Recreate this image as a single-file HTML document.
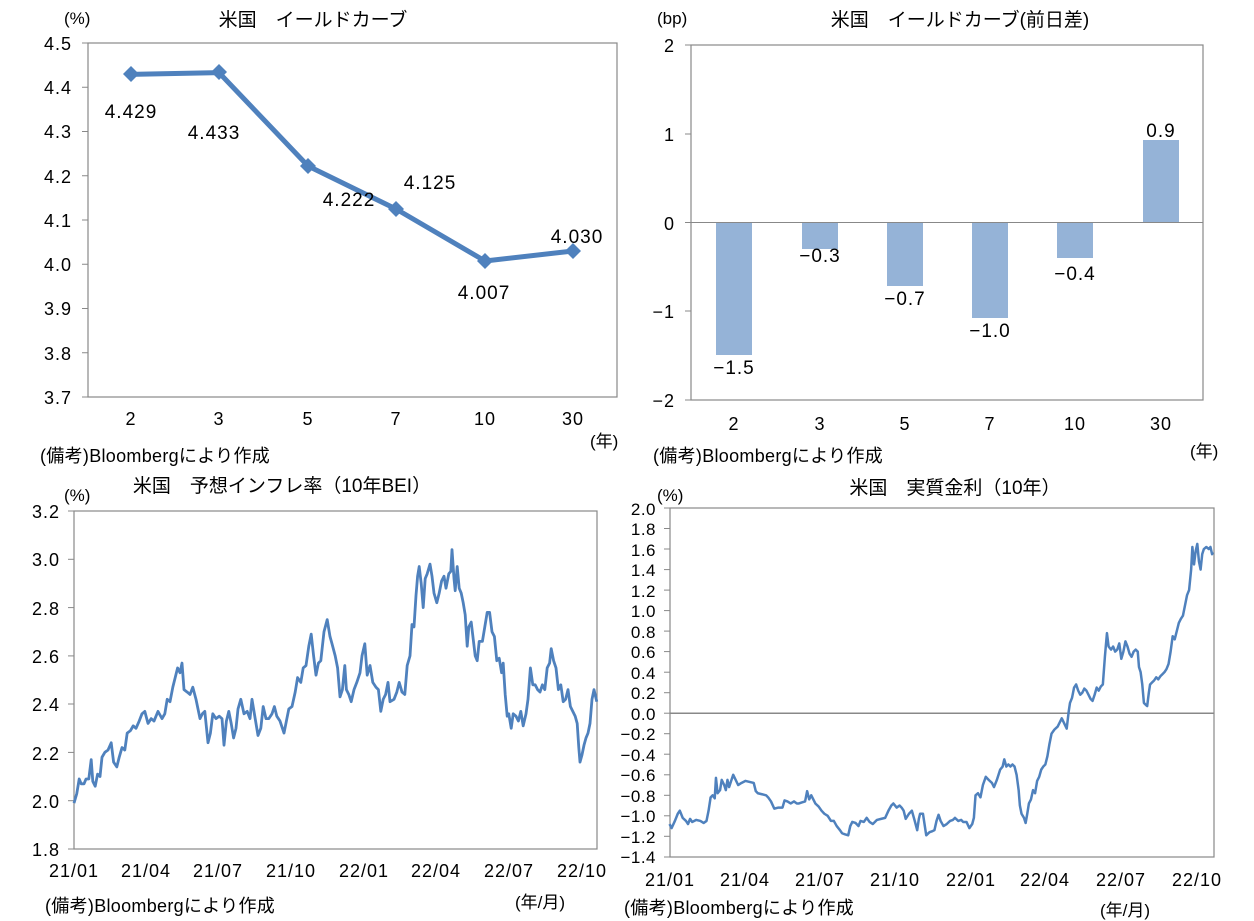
<!DOCTYPE html>
<html><head><meta charset="utf-8"><style>
html,body{margin:0;padding:0;background:#fff}
svg{display:block}
text{font-family:"Liberation Sans","Noto Sans CJK JP",sans-serif;fill:#000}
.t{font-size:18px;letter-spacing:1px}
.l{font-size:19px;letter-spacing:1px}
.ttl{font-size:19px}
.n{font-size:17px}
.f{font-size:18px;letter-spacing:0.3px}
</style></head><body>
<svg width="1254" height="921" viewBox="0 0 1254 921" xmlns="http://www.w3.org/2000/svg">
<!-- Chart 1 -->
<text x="313" y="26" text-anchor="middle" class="ttl">米国　イールドカーブ</text>
<text x="64" y="24" class="n">(%)</text>
<rect x="88" y="43" width="529" height="354" fill="none" stroke="#888" stroke-width="1.2"/>
<g stroke="#888"><line x1="82" y1="43" x2="88" y2="43"/><line x1="82" y1="87.25" x2="88" y2="87.25"/><line x1="82" y1="131.5" x2="88" y2="131.5"/><line x1="82" y1="175.75" x2="88" y2="175.75"/><line x1="82" y1="220" x2="88" y2="220"/><line x1="82" y1="264.25" x2="88" y2="264.25"/><line x1="82" y1="308.5" x2="88" y2="308.5"/><line x1="82" y1="352.75" x2="88" y2="352.75"/><line x1="82" y1="397" x2="88" y2="397"/></g>
<g class="t" text-anchor="end"><text x="72" y="50">4.5</text><text x="72" y="94">4.4</text><text x="72" y="138">4.3</text><text x="72" y="183">4.2</text><text x="72" y="227">4.1</text><text x="72" y="271">4.0</text><text x="72" y="315">3.9</text><text x="72" y="360">3.8</text><text x="72" y="404">3.7</text></g>
<g class="t" text-anchor="middle"><text x="131" y="425">2</text><text x="219" y="425">3</text><text x="308" y="425">5</text><text x="396" y="425">7</text><text x="485" y="425">10</text><text x="573" y="425">30</text></g>
<text x="590" y="447" class="n">(年)</text>
<polyline points="131,74.4 219,72.6 308,166 396,209 485,261 573,251" fill="none" stroke="#4f81bd" stroke-width="5" stroke-linejoin="round"/>
<g fill="#4f81bd"><path d="M131,66 l8,8 -8,8 -8,-8z"/><path d="M219,64 l8,8 -8,8 -8,-8z"/><path d="M308,158 l8,8 -8,8 -8,-8z"/><path d="M396,201 l8,8 -8,8 -8,-8z"/><path d="M485,253 l8,8 -8,8 -8,-8z"/><path d="M573,243 l8,8 -8,8 -8,-8z"/></g>
<g class="l" text-anchor="middle"><text x="131" y="118">4.429</text><text x="214" y="139">4.433</text><text x="349" y="206">4.222</text><text x="430" y="189">4.125</text><text x="484" y="299">4.007</text><text x="577" y="243">4.030</text></g>
<text x="40" y="462" class="f">(備考)Bloombergにより作成</text>

<!-- Chart 2 -->
<text x="960" y="26" text-anchor="middle" class="ttl">米国　イールドカーブ(前日差)</text>
<text x="657" y="24" class="n">(bp)</text>
<rect x="691" y="45" width="512" height="355" fill="none" stroke="#888" stroke-width="1.2"/>
<g stroke="#888"><line x1="685" y1="45" x2="691" y2="45"/><line x1="685" y1="134" x2="691" y2="134"/><line x1="685" y1="222.5" x2="1203" y2="222.5"/><line x1="685" y1="311" x2="691" y2="311"/><line x1="685" y1="400" x2="691" y2="400"/></g>
<g class="t" text-anchor="end"><text x="675" y="52">2</text><text x="675" y="141">1</text><text x="675" y="230">0</text><text x="675" y="318">−1</text><text x="675" y="407">−2</text></g>
<g fill="#95b3d7"><rect x="716" y="223" width="36" height="132"/><rect x="802" y="223" width="36" height="26"/><rect x="887" y="223" width="36" height="63"/><rect x="972" y="223" width="36" height="95"/><rect x="1057" y="223" width="36" height="35"/><rect x="1143" y="140" width="36" height="82"/></g>
<g class="l" text-anchor="middle"><text x="734" y="374">−1.5</text><text x="820" y="262">−0.3</text><text x="905" y="305">−0.7</text><text x="990" y="337">−1.0</text><text x="1075" y="280">−0.4</text><text x="1161" y="137">0.9</text></g>
<g class="t" text-anchor="middle"><text x="734" y="430">2</text><text x="820" y="430">3</text><text x="905" y="430">5</text><text x="990" y="430">7</text><text x="1075" y="430">10</text><text x="1161" y="430">30</text></g>
<text x="1190" y="457" class="n">(年)</text>
<text x="653" y="462" class="f">(備考)Bloombergにより作成</text>

<!-- Chart 3 -->
<text x="282" y="492" text-anchor="middle" class="ttl">米国　予想インフレ率（10年BEI）</text>
<text x="64" y="501" class="n">(%)</text>
<rect x="74" y="511" width="523" height="338" fill="none" stroke="#888" stroke-width="1.2"/>
<g stroke="#888"><line x1="68" y1="511" x2="74" y2="511"/><line x1="68" y1="559.3" x2="74" y2="559.3"/><line x1="68" y1="607.6" x2="74" y2="607.6"/><line x1="68" y1="655.9" x2="74" y2="655.9"/><line x1="68" y1="704" x2="74" y2="704"/><line x1="68" y1="752.4" x2="74" y2="752.4"/><line x1="68" y1="800.7" x2="74" y2="800.7"/><line x1="68" y1="849" x2="74" y2="849"/></g>
<g class="t" text-anchor="end"><text x="60" y="518">3.2</text><text x="60" y="566">3.0</text><text x="60" y="615">2.8</text><text x="60" y="663">2.6</text><text x="60" y="711">2.4</text><text x="60" y="760">2.2</text><text x="60" y="808">2.0</text><text x="60" y="856">1.8</text></g>
<g class="t" text-anchor="middle"><text x="74" y="877">21/01</text><text x="146" y="877">21/04</text><text x="218" y="877">21/07</text><text x="291" y="877">21/10</text><text x="364" y="877">22/01</text><text x="436" y="877">22/04</text><text x="509" y="877">22/07</text><text x="582" y="877">22/10</text></g>
<text x="515" y="908" class="n">(年/月)</text>
<text x="45" y="912" class="f">(備考)Bloombergにより作成</text>
<g transform="translate(0,1283.5) scale(0.4,-241.4)"><polyline fill="none" stroke="#4f81bd" stroke-width="2.8" vector-effect="non-scaling-stroke" stroke-linejoin="round" points="185,1.99 192,2.03 198,2.09 203,2.07 210,2.07 215,2.09 222,2.09 228,2.17 232,2.08 238,2.06 244,2.11 250,2.10 255,2.18 262,2.20 270,2.21 278,2.24 284,2.16 292,2.14 298,2.18 305,2.22 312,2.21 318,2.28 326,2.29 333,2.31 340,2.30 348,2.33 355,2.36 362,2.37 370,2.32 378,2.34 385,2.33 395,2.37 405,2.34 412,2.36 418,2.42 425,2.41 432,2.47 438,2.51 444,2.55 450,2.53 455,2.57 460,2.46 468,2.45 475,2.44 482,2.47 490,2.42 500,2.34 506,2.36 512,2.37 520,2.24 526,2.28 532,2.36 540,2.34 548,2.35 555,2.34 560,2.23 566,2.33 572,2.37 578,2.32 584,2.26 590,2.30 595,2.38 602,2.42 610,2.36 618,2.37 625,2.34 630,2.42 637,2.35 645,2.27 652,2.30 658,2.39 665,2.34 672,2.34 680,2.36 686,2.39 692,2.35 700,2.33 710,2.28 716,2.33 722,2.38 730,2.39 738,2.45 744,2.51 752,2.49 758,2.55 765,2.56 772,2.64 778,2.69 784,2.60 790,2.52 796,2.57 802,2.58 810,2.70 818,2.75 825,2.68 830,2.65 838,2.60 844,2.55 850,2.43 856,2.46 862,2.56 866,2.46 872,2.44 878,2.41 885,2.46 892,2.49 900,2.53 905,2.60 912,2.65 918,2.52 925,2.56 932,2.49 940,2.47 946,2.46 952,2.37 958,2.42 964,2.44 970,2.49 975,2.41 985,2.42 992,2.45 998,2.49 1005,2.45 1012,2.44 1018,2.56 1025,2.60 1030,2.73 1035,2.72 1040,2.85 1044,2.93 1048,2.97 1053,2.90 1058,2.80 1063,2.92 1068,2.94 1075,2.98 1080,2.93 1085,2.86 1092,2.82 1098,2.86 1104,2.91 1110,2.93 1115,2.88 1122,2.94 1127,2.95 1130,3.04 1135,2.92 1138,2.87 1143,2.97 1148,2.88 1153,2.86 1158,2.82 1163,2.77 1168,2.64 1172,2.72 1178,2.74 1183,2.67 1188,2.60 1193,2.58 1198,2.66 1206,2.66 1212,2.72 1218,2.78 1224,2.78 1230,2.70 1236,2.68 1242,2.58 1248,2.59 1254,2.53 1258,2.57 1263,2.44 1268,2.35 1272,2.36 1278,2.30 1283,2.36 1290,2.35 1296,2.33 1302,2.37 1308,2.31 1315,2.36 1320,2.42 1326,2.55 1332,2.48 1338,2.48 1344,2.46 1350,2.45 1356,2.48 1362,2.46 1368,2.55 1374,2.57 1378,2.63 1384,2.58 1390,2.55 1396,2.46 1402,2.48 1408,2.41 1414,2.42 1420,2.46 1426,2.39 1432,2.37 1438,2.35 1443,2.32 1447,2.22 1450,2.16 1455,2.19 1460,2.23 1465,2.26 1470,2.28 1475,2.32 1480,2.42 1485,2.46 1492,2.41"/></g>

<!-- Chart 4 -->
<text x="955" y="494" text-anchor="middle" class="ttl">米国　実質金利（10年）</text>
<text x="657" y="501" class="n">(%)</text>
<rect x="670" y="508" width="544" height="349" fill="none" stroke="#888" stroke-width="1.2"/>
<line x1="670" y1="713.2" x2="1214" y2="713.2" stroke="#888" stroke-width="1.5"/>
<g stroke="#888"><line x1="664" y1="508" x2="670" y2="508"/><line x1="664" y1="528.5" x2="670" y2="528.5"/><line x1="664" y1="549" x2="670" y2="549"/><line x1="664" y1="569.6" x2="670" y2="569.6"/><line x1="664" y1="590.1" x2="670" y2="590.1"/><line x1="664" y1="610.6" x2="670" y2="610.6"/><line x1="664" y1="631.1" x2="670" y2="631.1"/><line x1="664" y1="651.6" x2="670" y2="651.6"/><line x1="664" y1="672.2" x2="670" y2="672.2"/><line x1="664" y1="692.7" x2="670" y2="692.7"/><line x1="664" y1="713.2" x2="670" y2="713.2"/><line x1="664" y1="733.7" x2="670" y2="733.7"/><line x1="664" y1="754.2" x2="670" y2="754.2"/><line x1="664" y1="774.8" x2="670" y2="774.8"/><line x1="664" y1="795.3" x2="670" y2="795.3"/><line x1="664" y1="815.8" x2="670" y2="815.8"/><line x1="664" y1="836.3" x2="670" y2="836.3"/><line x1="664" y1="857" x2="670" y2="857"/></g>
<g class="t" text-anchor="end" style="font-size:17px;letter-spacing:0.5px">
<text x="656" y="515">2.0</text><text x="656" y="535">1.8</text><text x="656" y="556">1.6</text><text x="656" y="576">1.4</text><text x="656" y="597">1.2</text><text x="656" y="617">1.0</text><text x="656" y="638">0.8</text><text x="656" y="658">0.6</text><text x="656" y="679">0.4</text><text x="656" y="699">0.2</text><text x="656" y="720">0.0</text><text x="656" y="740">−0.2</text><text x="656" y="761">−0.4</text><text x="656" y="781">−0.6</text><text x="656" y="802">−0.8</text><text x="656" y="822">−1.0</text><text x="656" y="843">−1.2</text><text x="656" y="863">−1.4</text></g>
<g class="t" text-anchor="middle"><text x="670" y="886">21/01</text><text x="745" y="886">21/04</text><text x="820" y="886">21/07</text><text x="895" y="886">21/10</text><text x="971" y="886">22/01</text><text x="1045" y="886">22/04</text><text x="1121" y="886">22/07</text><text x="1197" y="886">22/10</text></g>
<text x="1100" y="916" class="n">(年/月)</text>
<text x="624" y="914" class="f">(備考)Bloombergにより作成</text>
<g transform="translate(610,713.2) scale(0.4107,-102.6)"><polyline fill="none" stroke="#4f81bd" stroke-width="2.5" vector-effect="non-scaling-stroke" stroke-linejoin="round" points="145,-1.08 150,-1.12 158,-1.05 165,-0.98 170,-0.95 177,-1.02 185,-1.05 190,-1.08 195,-1.03 200,-1.06 210,-1.04 220,-1.05 228,-1.07 235,-1.05 240,-0.95 245,-0.82 250,-0.80 255,-0.83 258,-0.63 262,-0.78 268,-0.75 272,-0.65 278,-0.70 282,-0.75 286,-0.65 290,-0.72 295,-0.66 300,-0.60 306,-0.65 312,-0.70 320,-0.68 330,-0.66 340,-0.67 350,-0.68 355,-0.76 360,-0.78 370,-0.79 380,-0.80 385,-0.82 392,-0.86 400,-0.93 410,-0.92 420,-0.92 425,-0.85 432,-0.86 440,-0.88 448,-0.86 455,-0.88 460,-0.88 467,-0.87 475,-0.86 480,-0.76 485,-0.84 490,-0.80 500,-0.88 508,-0.91 515,-0.95 522,-0.98 530,-1.00 538,-1.05 545,-1.05 552,-1.10 560,-1.14 565,-1.17 572,-1.18 580,-1.19 585,-1.10 590,-1.06 598,-1.07 605,-1.10 610,-1.05 618,-1.06 625,-1.02 632,-1.06 640,-1.08 650,-1.04 660,-1.03 670,-1.02 678,-0.95 685,-0.90 690,-0.88 698,-0.92 705,-0.90 710,-0.92 715,-0.95 720,-1.03 728,-0.98 735,-0.95 742,-1.05 748,-1.14 752,-1.03 755,-0.98 762,-0.98 770,-1.19 778,-1.16 785,-1.15 790,-1.14 795,-1.05 800,-0.99 805,-1.05 812,-1.10 820,-1.08 828,-1.05 835,-1.04 840,-1.02 848,-1.05 855,-1.04 860,-1.06 868,-1.06 875,-1.12 882,-1.08 886,-1.02 890,-0.80 896,-0.78 902,-0.82 908,-0.70 915,-0.62 922,-0.65 930,-0.68 935,-0.72 942,-0.65 950,-0.55 956,-0.52 960,-0.45 965,-0.52 970,-0.50 975,-0.52 980,-0.50 985,-0.52 990,-0.60 995,-0.75 998,-0.90 1002,-0.98 1008,-1.02 1012,-1.07 1016,-0.98 1020,-0.88 1025,-0.84 1030,-0.75 1035,-0.78 1040,-0.66 1045,-0.62 1050,-0.55 1055,-0.52 1060,-0.50 1065,-0.42 1070,-0.30 1075,-0.20 1082,-0.16 1090,-0.13 1095,-0.09 1100,-0.05 1106,-0.10 1112,-0.15 1117,0.02 1120,0.10 1125,0.15 1130,0.25 1135,0.28 1140,0.22 1145,0.18 1150,0.20 1155,0.24 1160,0.22 1165,0.18 1170,0.14 1175,0.12 1180,0.18 1185,0.25 1190,0.22 1195,0.26 1200,0.28 1205,0.55 1210,0.78 1214,0.65 1220,0.62 1225,0.65 1230,0.60 1235,0.62 1240,0.68 1245,0.53 1250,0.60 1255,0.70 1260,0.65 1265,0.58 1270,0.55 1275,0.60 1280,0.62 1285,0.60 1288,0.45 1292,0.40 1296,0.28 1300,0.10 1305,0.08 1308,0.07 1312,0.20 1315,0.28 1320,0.30 1325,0.32 1330,0.35 1335,0.33 1340,0.36 1345,0.38 1350,0.40 1355,0.43 1360,0.48 1365,0.60 1370,0.75 1375,0.72 1380,0.80 1385,0.88 1390,0.92 1395,0.95 1400,1.05 1405,1.15 1410,1.20 1415,1.40 1418,1.62 1422,1.45 1426,1.58 1430,1.65 1434,1.48 1438,1.40 1442,1.55 1446,1.60 1452,1.62 1458,1.60 1462,1.62 1466,1.55 1468,1.57"/></g>
</svg>
</body></html>
